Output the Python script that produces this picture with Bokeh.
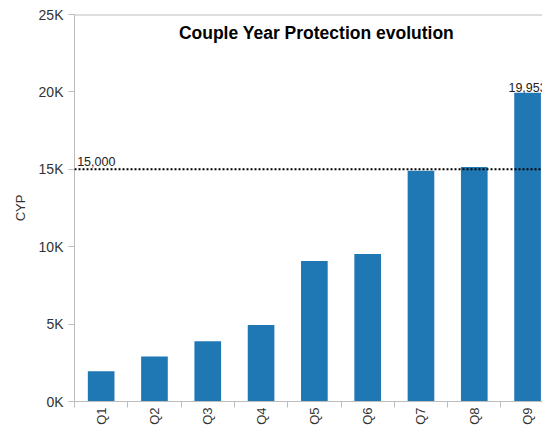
import math
from bokeh.plotting import figure
from bokeh.models import (ColumnDataSource, Range1d, FixedTicker, LinearAxis,
                          Span, Label)
from bokeh.embed import file_html
from bokeh.resources import INLINE

# ---- data ----
categories = ["Q1", "Q2", "Q3", "Q4", "Q5", "Q6", "Q7", "Q8", "Q9"]
cyp_values = [1960, 2900, 3900, 4940, 9080, 9530, 14900, 15150, 19953]
target_value = 15000
y_tick_values = [0, 5000, 10000, 15000, 20000, 25000]
y_tick_labels = ["0K", "5K", "10K", "15K", "20K", "25K"]
title_text = "Couple Year Protection evolution"
y_axis_title = "CYP"

FONT = "Liberation Sans"
TEXT_COLOR = "#333333"
AXIS_COLOR = "#bdbdbd"
BAR_COLOR = "#1f77b4"

centers = [i + 0.5 for i in range(len(categories))]
src = ColumnDataSource(dict(x=centers, top=cyp_values, cat=categories))

p = figure(width=542, height=427, output_backend="svg", toolbar_location=None,
           x_range=Range1d(0, 8.78), y_range=Range1d(0, 25000),
           min_border_left=74, min_border_right=0, min_border_top=14,
           min_border_bottom=25, x_axis_type=None, y_axis_type=None)
p.outline_line_color = None
p.xgrid.visible = False
p.ygrid.visible = False
p.background_fill_color = "white"
p.border_fill_color = "white"

p.vbar(x="x", top="top", width=0.5, bottom=0, source=src,
       fill_color=BAR_COLOR, line_color=None)

# y axis
yaxis = LinearAxis(ticker=FixedTicker(ticks=y_tick_values, minor_ticks=[]))
yaxis.major_label_overrides = {v: l for v, l in zip(y_tick_values, y_tick_labels)}
yaxis.axis_label = y_axis_title
yaxis.axis_label_text_font = FONT
yaxis.axis_label_text_font_size = "13px"
yaxis.axis_label_text_font_style = "normal"
yaxis.axis_label_text_color = TEXT_COLOR
yaxis.axis_label_standoff = 8
yaxis.major_label_text_font = FONT
yaxis.major_label_text_font_size = "14px"
yaxis.major_label_text_color = TEXT_COLOR
yaxis.major_label_standoff = 5
yaxis.axis_line_color = AXIS_COLOR
yaxis.major_tick_line_color = AXIS_COLOR
yaxis.major_tick_out = 6
yaxis.major_tick_in = 0
yaxis.minor_tick_line_color = None
p.add_layout(yaxis, "left")

# x axis: labels at centers, tick marks at boundaries
xaxis = LinearAxis(ticker=FixedTicker(ticks=centers,
                                      minor_ticks=list(range(len(categories) + 1))))
xaxis.major_label_overrides = {c: l for c, l in zip(centers, categories)}
xaxis.major_label_orientation = math.pi / 2
xaxis.major_label_text_font = FONT
xaxis.major_label_text_font_size = "13px"
xaxis.major_label_text_color = TEXT_COLOR
xaxis.major_label_standoff = 0
xaxis.major_tick_line_color = None
xaxis.major_tick_out = 0
xaxis.major_tick_in = 0
xaxis.minor_tick_line_color = AXIS_COLOR
xaxis.minor_tick_out = 6
xaxis.minor_tick_in = 0
xaxis.axis_line_color = AXIS_COLOR
p.add_layout(xaxis, "below")

# top frame line
p.add_layout(Span(location=25000, dimension="width", line_color=AXIS_COLOR,
                  line_width=2))

# target line
p.add_layout(Span(location=target_value, dimension="width", line_color="black",
                  line_width=2, line_dash="2 2"))
p.add_layout(Label(x=0.05, y=target_value, y_offset=8, text=f"{target_value:,}",
                   text_font=FONT, text_font_size="12.5px", text_color="#222222",
                   text_baseline="alphabetic", text_align="left"))

# max value label
p.text(x=[centers[-1]], y=[cyp_values[-1]], text=[f"{cyp_values[-1]:,}"],
       y_offset=-5, text_align="center", text_baseline="alphabetic",
       text_font_size="12.5px", text_color="#222222",
       text_font={"value": FONT})

# title inside the plot area
p.add_layout(Label(x=4.54, y=23800, text=title_text, text_font=FONT,
                   text_font_size="17.5px", text_font_style="bold",
                   text_color="black", text_align="center",
                   text_baseline="middle"))

open("out.html", "w").write(file_html(p, INLINE))
